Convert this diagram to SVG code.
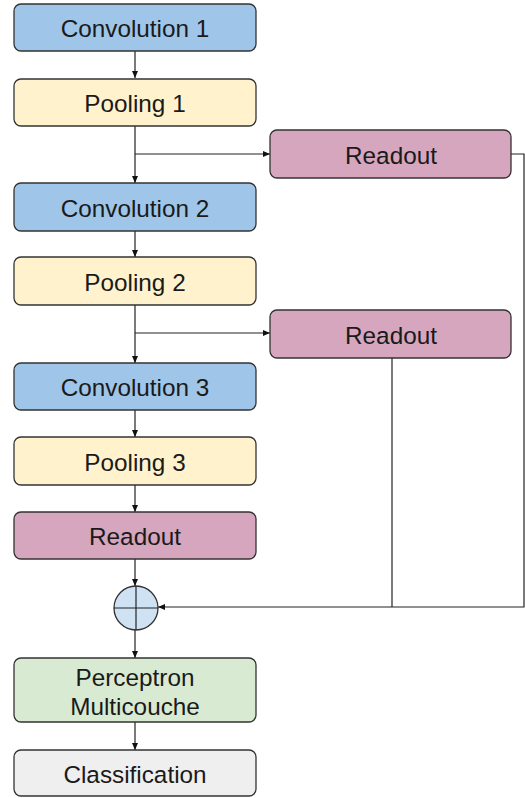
<svg xmlns="http://www.w3.org/2000/svg" width="525" height="798" viewBox="0 0 525 798">
<style>
.box{stroke:#333;stroke-width:1.3}
.conv{fill:#9fc5e8}
.pool{fill:#fff2cc}
.read{fill:#d5a6bd}
.mlp{fill:#d9ead3}
.cls{fill:#efefef}
text{font-family:"Liberation Sans",Arial,sans-serif;font-size:24.3px;fill:#1a1a1a;text-anchor:middle;dominant-baseline:central}
.ln{stroke:#222;stroke-width:1.2;fill:none}
</style>
<defs>
<marker id="ah" markerWidth="8" markerHeight="8" refX="7" refY="4" orient="auto" markerUnits="userSpaceOnUse">
<path d="M0,1 L7,4 L0,7 Z" fill="#111"/>
</marker>
</defs>
<rect width="525" height="798" fill="#fff"/>
<g id="connectors">
<line class="ln" x1="135" y1="51" x2="135" y2="78" marker-end="url(#ah)"/>
<line class="ln" x1="135" y1="126" x2="135" y2="183" marker-end="url(#ah)"/>
<line class="ln" x1="135" y1="154" x2="270" y2="154" marker-end="url(#ah)"/>
<line class="ln" x1="135" y1="231" x2="135" y2="257" marker-end="url(#ah)"/>
<line class="ln" x1="135" y1="305" x2="135" y2="363" marker-end="url(#ah)"/>
<line class="ln" x1="135" y1="333" x2="270" y2="333" marker-end="url(#ah)"/>
<line class="ln" x1="135" y1="410" x2="135" y2="437" marker-end="url(#ah)"/>
<line class="ln" x1="135" y1="485" x2="135" y2="512" marker-end="url(#ah)"/>
<line class="ln" x1="135" y1="559" x2="135" y2="586" marker-end="url(#ah)"/>
<line class="ln" x1="135" y1="630" x2="135" y2="658" marker-end="url(#ah)"/>
<line class="ln" x1="135" y1="722" x2="135" y2="750" marker-end="url(#ah)"/>
<polyline class="ln" points="511,154 524,154 524,607 158,607" marker-end="url(#ah)"/>
<line class="ln" x1="392" y1="358" x2="392" y2="607"/>
</g>
<g id="conv1"><rect class="box conv" x="14" y="4" width="242" height="47" rx="7"/><text x="135" y="28">Convolution 1</text></g>
<g id="pool1"><rect class="box pool" x="14" y="79" width="242" height="47" rx="7"/><text x="135" y="103">Pooling 1</text></g>
<g id="readout1"><rect class="box read" x="270" y="130" width="241" height="48" rx="7"/><text x="391" y="155">Readout</text></g>
<g id="conv2"><rect class="box conv" x="14" y="183" width="242" height="48" rx="7"/><text x="135" y="208">Convolution 2</text></g>
<g id="pool2"><rect class="box pool" x="14" y="257" width="242" height="48" rx="7"/><text x="135" y="282">Pooling 2</text></g>
<g id="readout2"><rect class="box read" x="270" y="310" width="241" height="48" rx="7"/><text x="391" y="335">Readout</text></g>
<g id="conv3"><rect class="box conv" x="14" y="363" width="242" height="47" rx="7"/><text x="135" y="387">Convolution 3</text></g>
<g id="pool3"><rect class="box pool" x="14" y="437" width="242" height="48" rx="7"/><text x="135" y="462">Pooling 3</text></g>
<g id="readout3"><rect class="box read" x="14" y="512" width="242" height="47" rx="7"/><text x="135" y="536">Readout</text></g>
<g id="sum"><circle class="box" cx="136" cy="608" r="22" fill="#cfe2f3"/><line class="ln" x1="114" y1="608" x2="158" y2="608"/><line class="ln" x1="136" y1="586" x2="136" y2="630"/></g>
<g id="mlp"><rect class="box mlp" x="14" y="658" width="242" height="64" rx="7"/><text x="135" y="677">Perceptron</text><text x="135" y="706">Multicouche</text></g>
<g id="classification"><rect class="box cls" x="14" y="750" width="242" height="46" rx="7"/><text x="135" y="774">Classification</text></g>
</svg>
